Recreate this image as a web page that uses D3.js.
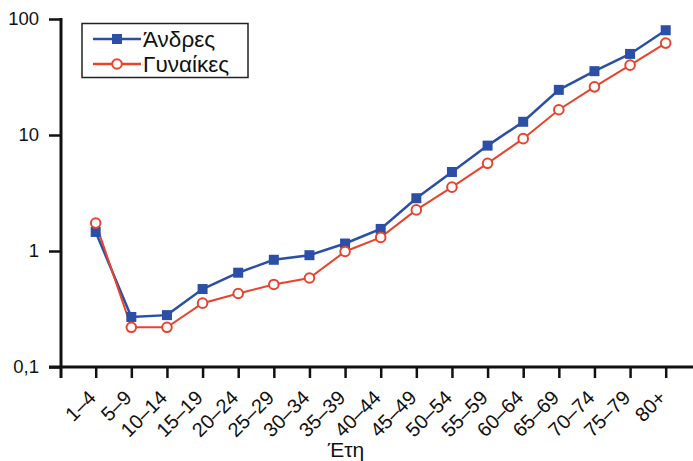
<!DOCTYPE html>
<html><head><meta charset="utf-8">
<script src="https://cdn.jsdelivr.net/npm/d3@7"></script>
<style>body{margin:0;background:#fff}svg{display:block;font-family:"Liberation Sans",Arial,sans-serif}</style>
</head><body><svg id="c" width="693" height="461"></svg>
<script>
const categories = ["1–4","5–9","10–14","15–19","20–24","25–29","30–34","35–39","40–44","45–49","50–54","55–59","60–64","65–69","70–74","75–79","80+"];
const men   = [1.46,0.27,0.28,0.47,0.65,0.84,0.92,1.16,1.55,2.85,4.8,8.1,13.0,24.5,35.5,50,80];
const women = [1.74,0.22,0.22,0.355,0.43,0.515,0.585,0.99,1.31,2.26,3.55,5.7,9.3,16.5,26,40,62];
const yTicks = [0.1,1,10,100];
const yTickLabels = ["0,1","1","10","100"];
const seriesNames = ["Άνδρες","Γυναίκες"];
const xTitle = "Έτη";

const svg = d3.select("#c");
const blue = "#2b4ea6", red = "#e8432d";
const x = d3.scalePoint().domain(categories).range([95.7,665.7]);
const y = d3.scaleLog().domain([0.1,100]).range([367,19]);
const axX = 61, axY = 367;

// y axis
const ya = svg.append("g").attr("transform",`translate(${axX},0)`)
  .call(d3.axisLeft(y).tickValues(yTicks).tickFormat((d,i)=>yTickLabels[i]).tickSize(12).tickPadding(10));
ya.select(".domain").remove();
ya.selectAll("line").attr("stroke","#111").attr("stroke-width",2.5);
ya.selectAll("text").attr("font-size",18.5).attr("fill","#111").attr("font-family","Liberation Sans, Arial, sans-serif");
svg.append("line").attr("x1",axX).attr("x2",axX).attr("y1",y(100)-1).attr("y2",axY+11).attr("stroke","#111").attr("stroke-width",3);

// x axis
const xa = svg.append("g").attr("transform",`translate(0,${axY})`)
  .call(d3.axisBottom(x).tickSize(11).tickFormat(d=>d));
xa.select(".domain").remove();
xa.selectAll("line").attr("stroke","#111").attr("stroke-width",2.5);
xa.selectAll("text").attr("font-size",20).attr("fill","#111").attr("font-family","Liberation Sans, Arial, sans-serif")
  .attr("text-anchor","end").attr("dy","0.35em").attr("y",0)
  .attr("transform","translate(-4,27) rotate(-45)");
svg.append("line").attr("x1",49).attr("x2",693).attr("y1",axY).attr("y2",axY).attr("stroke","#111").attr("stroke-width",3);

svg.append("text").attr("x",346).attr("y",457).attr("text-anchor","middle").attr("font-size",21).attr("fill","#111").text(xTitle);

// lines
const line = d3.line().x((d,i)=>x(categories[i])).y(d=>y(d));
svg.append("path").datum(men).attr("d",line).attr("fill","none").attr("stroke",blue).attr("stroke-width",2.5);
svg.append("path").datum(women).attr("d",line).attr("fill","none").attr("stroke",red).attr("stroke-width",2);
svg.append("g").selectAll("rect").data(men).join("rect")
  .attr("x",(d,i)=>x(categories[i])-5).attr("y",d=>y(d)-5).attr("width",10).attr("height",10).attr("fill",blue);
svg.append("g").selectAll("circle").data(women).join("circle")
  .attr("cx",(d,i)=>x(categories[i])).attr("cy",d=>y(d)).attr("r",4.8).attr("fill","#fff").attr("stroke",red).attr("stroke-width",2);

// legend
const lg = svg.append("g");
lg.append("rect").attr("x",82).attr("y",23.5).attr("width",166).attr("height",54).attr("fill","#fff").attr("stroke","#222").attr("stroke-width",1.5);
const rows=[{n:seriesNames[0],c:blue,t:"sq",yy:39},{n:seriesNames[1],c:red,t:"ci",yy:64}];
rows.forEach(r=>{
  lg.append("line").attr("x1",93).attr("x2",141).attr("y1",r.yy).attr("y2",r.yy).attr("stroke",r.c).attr("stroke-width",2.5);
  if(r.t==="sq") lg.append("rect").attr("x",112).attr("y",r.yy-5).attr("width",10).attr("height",10).attr("fill",r.c);
  else lg.append("circle").attr("cx",117).attr("cy",r.yy).attr("r",4.8).attr("fill","#fff").attr("stroke",r.c).attr("stroke-width",2);
  lg.append("text").attr("x",143).attr("y",r.yy).attr("dy","0.35em").attr("font-size",22.5).attr("fill","#111").text(r.n);
});
</script></body></html>
